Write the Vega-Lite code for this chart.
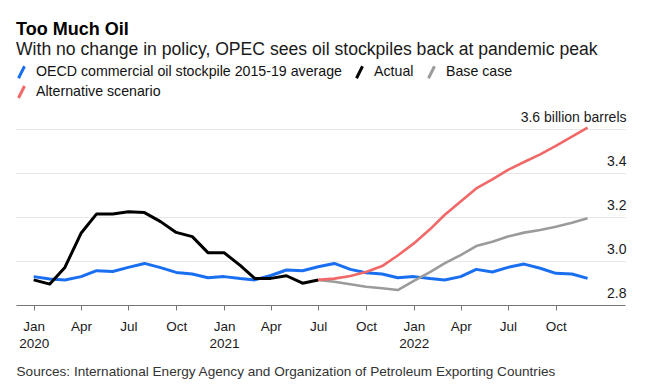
{
  "$schema": "https://vega.github.io/schema/vega-lite/v6.json",
  "width": 609,
  "height": 176,
  "autosize": {"type": "none"},
  "padding": {"left": 16, "top": 129, "right": 20, "bottom": 84},
  "background": "white",
  "config": {
    "view": {"stroke": null},
    "font": "Liberation Sans"
  },
  "title": {
    "text": "Too Much Oil",
    "subtitle": "With no change in policy, OPEC sees oil stockpiles back at pandemic peak",
    "anchor": "start",
    "frame": "group",
    "fontSize": 18,
    "fontWeight": "bold",
    "color": "#000000",
    "subtitleFontSize": 17.6,
    "subtitleColor": "#1a1a1a",
    "subtitlePadding": 2,
    "offset": 6,
    "font": "Liberation Sans",
    "subtitleFont": "Liberation Sans"
  },
  "datasets": {
    "oil": [
      {"series": "OECD commercial oil stockpile 2015-19 average", "date": "2020-01-01", "value": 2.929},
      {"series": "OECD commercial oil stockpile 2015-19 average", "date": "2020-02-01", "value": 2.918},
      {"series": "OECD commercial oil stockpile 2015-19 average", "date": "2020-03-01", "value": 2.914},
      {"series": "OECD commercial oil stockpile 2015-19 average", "date": "2020-04-01", "value": 2.929},
      {"series": "OECD commercial oil stockpile 2015-19 average", "date": "2020-05-01", "value": 2.956},
      {"series": "OECD commercial oil stockpile 2015-19 average", "date": "2020-06-01", "value": 2.952},
      {"series": "OECD commercial oil stockpile 2015-19 average", "date": "2020-07-01", "value": 2.971},
      {"series": "OECD commercial oil stockpile 2015-19 average", "date": "2020-08-01", "value": 2.989},
      {"series": "OECD commercial oil stockpile 2015-19 average", "date": "2020-09-01", "value": 2.970},
      {"series": "OECD commercial oil stockpile 2015-19 average", "date": "2020-10-01", "value": 2.948},
      {"series": "OECD commercial oil stockpile 2015-19 average", "date": "2020-11-01", "value": 2.941},
      {"series": "OECD commercial oil stockpile 2015-19 average", "date": "2020-12-01", "value": 2.924},
      {"series": "OECD commercial oil stockpile 2015-19 average", "date": "2021-01-01", "value": 2.929},
      {"series": "OECD commercial oil stockpile 2015-19 average", "date": "2021-02-01", "value": 2.920},
      {"series": "OECD commercial oil stockpile 2015-19 average", "date": "2021-03-01", "value": 2.914},
      {"series": "OECD commercial oil stockpile 2015-19 average", "date": "2021-04-01", "value": 2.934},
      {"series": "OECD commercial oil stockpile 2015-19 average", "date": "2021-05-01", "value": 2.959},
      {"series": "OECD commercial oil stockpile 2015-19 average", "date": "2021-06-01", "value": 2.956},
      {"series": "OECD commercial oil stockpile 2015-19 average", "date": "2021-07-01", "value": 2.974},
      {"series": "OECD commercial oil stockpile 2015-19 average", "date": "2021-08-01", "value": 2.989},
      {"series": "OECD commercial oil stockpile 2015-19 average", "date": "2021-09-01", "value": 2.962},
      {"series": "OECD commercial oil stockpile 2015-19 average", "date": "2021-10-01", "value": 2.947},
      {"series": "OECD commercial oil stockpile 2015-19 average", "date": "2021-11-01", "value": 2.941},
      {"series": "OECD commercial oil stockpile 2015-19 average", "date": "2021-12-01", "value": 2.924},
      {"series": "OECD commercial oil stockpile 2015-19 average", "date": "2022-01-01", "value": 2.929},
      {"series": "OECD commercial oil stockpile 2015-19 average", "date": "2022-02-01", "value": 2.920},
      {"series": "OECD commercial oil stockpile 2015-19 average", "date": "2022-03-01", "value": 2.914},
      {"series": "OECD commercial oil stockpile 2015-19 average", "date": "2022-04-01", "value": 2.929},
      {"series": "OECD commercial oil stockpile 2015-19 average", "date": "2022-05-01", "value": 2.962},
      {"series": "OECD commercial oil stockpile 2015-19 average", "date": "2022-06-01", "value": 2.950},
      {"series": "OECD commercial oil stockpile 2015-19 average", "date": "2022-07-01", "value": 2.971},
      {"series": "OECD commercial oil stockpile 2015-19 average", "date": "2022-08-01", "value": 2.986},
      {"series": "OECD commercial oil stockpile 2015-19 average", "date": "2022-09-01", "value": 2.967},
      {"series": "OECD commercial oil stockpile 2015-19 average", "date": "2022-10-01", "value": 2.944},
      {"series": "OECD commercial oil stockpile 2015-19 average", "date": "2022-11-01", "value": 2.941},
      {"series": "OECD commercial oil stockpile 2015-19 average", "date": "2022-12-01", "value": 2.921},
      {"series": "Actual", "date": "2020-01-01", "value": 2.914},
      {"series": "Actual", "date": "2020-02-01", "value": 2.895},
      {"series": "Actual", "date": "2020-03-01", "value": 2.971},
      {"series": "Actual", "date": "2020-04-01", "value": 3.126},
      {"series": "Actual", "date": "2020-05-01", "value": 3.214},
      {"series": "Actual", "date": "2020-06-01", "value": 3.214},
      {"series": "Actual", "date": "2020-07-01", "value": 3.224},
      {"series": "Actual", "date": "2020-08-01", "value": 3.220},
      {"series": "Actual", "date": "2020-09-01", "value": 3.179},
      {"series": "Actual", "date": "2020-10-01", "value": 3.130},
      {"series": "Actual", "date": "2020-11-01", "value": 3.111},
      {"series": "Actual", "date": "2020-12-01", "value": 3.038},
      {"series": "Actual", "date": "2021-01-01", "value": 3.038},
      {"series": "Actual", "date": "2021-02-01", "value": 2.980},
      {"series": "Actual", "date": "2021-03-01", "value": 2.921},
      {"series": "Actual", "date": "2021-04-01", "value": 2.921},
      {"series": "Actual", "date": "2021-05-01", "value": 2.933},
      {"series": "Actual", "date": "2021-06-01", "value": 2.899},
      {"series": "Actual", "date": "2021-07-01", "value": 2.914},
      {"series": "Base case", "date": "2021-07-01", "value": 2.914},
      {"series": "Base case", "date": "2021-08-01", "value": 2.906},
      {"series": "Base case", "date": "2021-09-01", "value": 2.894},
      {"series": "Base case", "date": "2021-10-01", "value": 2.883},
      {"series": "Base case", "date": "2021-11-01", "value": 2.876},
      {"series": "Base case", "date": "2021-12-01", "value": 2.868},
      {"series": "Base case", "date": "2022-01-01", "value": 2.910},
      {"series": "Base case", "date": "2022-02-01", "value": 2.949},
      {"series": "Base case", "date": "2022-03-01", "value": 2.989},
      {"series": "Base case", "date": "2022-04-01", "value": 3.027},
      {"series": "Base case", "date": "2022-05-01", "value": 3.068},
      {"series": "Base case", "date": "2022-06-01", "value": 3.088},
      {"series": "Base case", "date": "2022-07-01", "value": 3.111},
      {"series": "Base case", "date": "2022-08-01", "value": 3.129},
      {"series": "Base case", "date": "2022-09-01", "value": 3.141},
      {"series": "Base case", "date": "2022-10-01", "value": 3.156},
      {"series": "Base case", "date": "2022-11-01", "value": 3.174},
      {"series": "Base case", "date": "2022-12-01", "value": 3.194},
      {"series": "Alternative scenario", "date": "2021-07-01", "value": 2.914},
      {"series": "Alternative scenario", "date": "2021-08-01", "value": 2.920},
      {"series": "Alternative scenario", "date": "2021-09-01", "value": 2.932},
      {"series": "Alternative scenario", "date": "2021-10-01", "value": 2.950},
      {"series": "Alternative scenario", "date": "2021-11-01", "value": 2.977},
      {"series": "Alternative scenario", "date": "2021-12-01", "value": 3.025},
      {"series": "Alternative scenario", "date": "2022-01-01", "value": 3.080},
      {"series": "Alternative scenario", "date": "2022-02-01", "value": 3.144},
      {"series": "Alternative scenario", "date": "2022-03-01", "value": 3.209},
      {"series": "Alternative scenario", "date": "2022-04-01", "value": 3.270},
      {"series": "Alternative scenario", "date": "2022-05-01", "value": 3.330},
      {"series": "Alternative scenario", "date": "2022-06-01", "value": 3.371},
      {"series": "Alternative scenario", "date": "2022-07-01", "value": 3.414},
      {"series": "Alternative scenario", "date": "2022-08-01", "value": 3.450},
      {"series": "Alternative scenario", "date": "2022-09-01", "value": 3.485},
      {"series": "Alternative scenario", "date": "2022-10-01", "value": 3.523},
      {"series": "Alternative scenario", "date": "2022-11-01", "value": 3.565},
      {"series": "Alternative scenario", "date": "2022-12-01", "value": 3.606}
    ]
  },
  "data": {"name": "oil"},
  "encoding": {
    "x": {
      "field": "date",
      "type": "temporal",
      "scale": {
        "type": "utc",
        "domain": [
          {"year": 2019, "month": 11, "date": 28, "utc": true},
          {"year": 2023, "month": 2, "date": 11, "utc": true}
        ]
      },
      "axis": {
        "values": [
          {"year": 2020, "month": 1, "date": 1, "utc": true},
          {"year": 2020, "month": 4, "date": 1, "utc": true},
          {"year": 2020, "month": 7, "date": 1, "utc": true},
          {"year": 2020, "month": 10, "date": 1, "utc": true},
          {"year": 2021, "month": 1, "date": 1, "utc": true},
          {"year": 2021, "month": 4, "date": 1, "utc": true},
          {"year": 2021, "month": 7, "date": 1, "utc": true},
          {"year": 2021, "month": 10, "date": 1, "utc": true},
          {"year": 2022, "month": 1, "date": 1, "utc": true},
          {"year": 2022, "month": 4, "date": 1, "utc": true},
          {"year": 2022, "month": 7, "date": 1, "utc": true},
          {"year": 2022, "month": 10, "date": 1, "utc": true}
        ],
        "labelExpr": "utcmonth(datum.value) == 0 ? [utcFormat(datum.value, '%b'), utcFormat(datum.value, '%Y')] : utcFormat(datum.value, '%b')",
        "labelFont": "Liberation Sans",
        "labelFontSize": 13.5,
        "labelColor": "#1a1a1a",
        "labelPadding": 9,
        "labelLineHeight": 17.5,
        "labelFlush": false,
        "labelOverlap": false,
        "labelBaseline": "top",
        "grid": false,
        "domainColor": "#777777",
        "domainWidth": 1.2,
        "tickColor": "#777777",
        "tickSize": 5,
        "tickWidth": 1,
        "title": "Sources: International Energy Agency and Organization of Petroleum Exporting Countries",
        "titleFont": "Liberation Sans",
        "titleFontSize": 13.6,
        "titleFontWeight": "normal",
        "titleColor": "#333333",
        "titleAnchor": "start",
        "titleAlign": "left",
        "titleBaseline": "alphabetic",
        "titleX": 0,
        "titleY": 70.5
      }
    },
    "y": {
      "field": "value",
      "type": "quantitative",
      "scale": {"domain": [2.8, 3.6], "zero": false, "nice": false},
      "axis": {
        "orient": "right",
        "values": [2.8, 3.0, 3.2, 3.4, 3.6],
        "format": ".1f",
        "labelExpr": "datum.value >= 3.59 ? '3.6 billion barrels' : datum.label",
        "labelFont": "Liberation Sans",
        "labelFontSize": 14,
        "labelColor": "#1a1a1a",
        "labelAlign": "right",
        "labelBaseline": "alphabetic",
        "labelOffset": -8,
        "labelPadding": 1,
        "ticks": false,
        "tickSize": 0,
        "domain": false,
        "grid": true,
        "gridColor": "#e6e6e6",
        "gridWidth": 1,
        "title": null
      }
    },
    "color": {
      "field": "series",
      "type": "nominal",
      "scale": {
        "domain": ["OECD commercial oil stockpile 2015-19 average", "Actual", "Base case", "Alternative scenario"],
        "range": ["#1a6ff0", "#000000", "#9b9b9b", "#f06868"]
      },
      "legend": {
        "title": null,
        "orient": "none",
        "legendX": -2,
        "legendY": -64.5,
        "direction": "horizontal",
        "columns": 3,
        "columnPadding": 8,
        "rowPadding": -6,
        "padding": 0,
        "symbolType": "M-0.5,1L0.5,-1",
        "symbolSize": 144,
        "symbolStrokeWidth": 3,
        "labelOffset": 7,
        "labelFont": "Liberation Sans",
        "labelFontSize": 14.2,
        "labelColor": "#111111",
        "labelLimit": 500
      }
    }
  },
  "layer": [
    {
      "transform": [{"filter": "datum.series == 'OECD commercial oil stockpile 2015-19 average'"}],
      "mark": {"type": "line", "strokeWidth": 3, "strokeJoin": "round", "strokeCap": "butt"}
    },
    {
      "transform": [{"filter": "datum.series == 'Base case'"}],
      "mark": {"type": "line", "strokeWidth": 2.6, "strokeJoin": "round"}
    },
    {
      "transform": [{"filter": "datum.series == 'Alternative scenario'"}],
      "mark": {"type": "line", "strokeWidth": 2.6, "strokeJoin": "round"}
    },
    {
      "transform": [{"filter": "datum.series == 'Actual'"}],
      "mark": {"type": "line", "strokeWidth": 3, "strokeJoin": "round"}
    }
  ]
}
